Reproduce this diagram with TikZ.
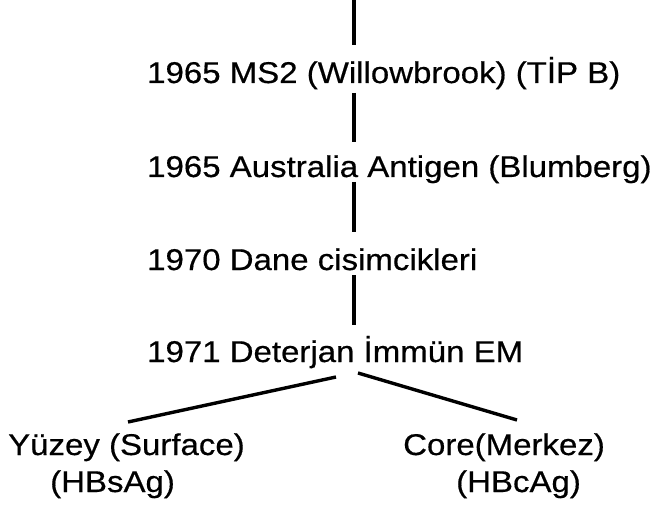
\documentclass[tikz,border=0pt]{standalone}
\usepackage{fontspec}
\setmainfont{Liberation Sans}[FakeStretch=1.1,FakeBold=0.5]
\begin{document}
\begin{tikzpicture}[x=1pt,y=1pt,
  lbl/.style={anchor=base west, inner sep=0pt, font=\fontsize{30}{36}\selectfont},
  conn/.style={line width=3.4pt, black}]
\useasboundingbox (0,0) rectangle (662,-508);
\coordinate (top) at (354,0);
\node[lbl] (l1) at (147,-83) {1965 MS2 (Willowbrook) (TİP B)};
\node[lbl] (l2) at (147,-177) {1965 Australia Antigen (Blumberg)};
\node[lbl] (l3) at (147,-270) {1970 Dane cisimcikleri};
\node[lbl] (l4) at (147,-362) {1971 Deterjan İmmün EM};
\node[lbl] (yz) at (8,-455) {Yüzey (Surface)};
\node[lbl] (hbs) at (50,-492) {(HBsAg)};
\node[lbl] (core) at (403,-455) {Core(Merkez)};
\node[lbl] (hbc) at (456,-492) {(HBcAg)};
\draw[conn] (top) -- ([yshift=38pt]l1.base -| top);
\draw[conn] ([yshift=-10pt]l1.base -| top) -- ([yshift=35pt]l2.base -| top);
\draw[conn] ([yshift=-5pt]l2.base -| top) -- ([yshift=38pt]l3.base -| top);
\draw[conn] ([yshift=-5pt]l3.base -| top) -- ([yshift=37pt]l4.base -| top);
\draw[conn] ([xshift=189pt,yshift=-15pt]l4.base west) -- ([xshift=120pt,yshift=33pt]yz.base west);
\draw[conn] ([xshift=211pt,yshift=-11pt]l4.base west) -- ([xshift=114pt,yshift=35pt]core.base west);
\end{tikzpicture}
\end{document}
